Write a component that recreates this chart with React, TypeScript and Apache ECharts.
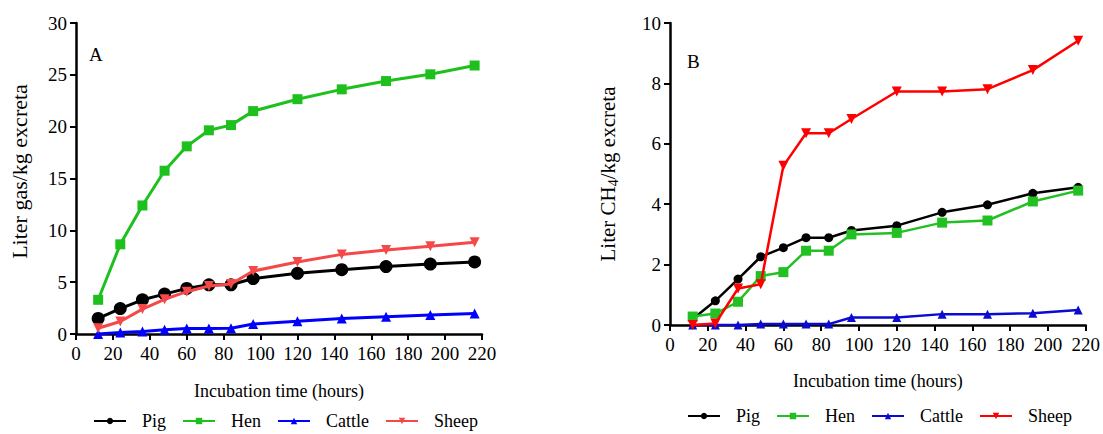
import React, { useEffect, useRef } from "react";
import * as echarts from "echarts";

const hours = [12, 24, 36, 48, 60, 72, 84, 96, 120, 144, 168, 192, 216];

// Panel A: Liter gas / kg excreta
const gasPig = [1.5, 2.45, 3.3, 3.85, 4.4, 4.75, 4.75, 5.35, 5.85, 6.2, 6.5, 6.75, 6.95];
const gasHen = [3.3, 8.65, 12.4, 15.75, 18.1, 19.65, 20.15, 21.5, 22.65, 23.6, 24.4, 25.05, 25.9];
const gasCattle = [0.0, 0.15, 0.25, 0.4, 0.52, 0.52, 0.55, 0.96, 1.22, 1.5, 1.67, 1.83, 1.98];
const gasSheep = [0.55, 1.2, 2.4, 3.35, 4.08, 4.63, 4.82, 6.07, 6.94, 7.68, 8.1, 8.46, 8.84];

// Panel B: Liter CH4 / kg excreta
const ch4Pig = [0.2, 0.8, 1.52, 2.26, 2.56, 2.89, 2.89, 3.13, 3.29, 3.73, 3.98, 4.36, 4.56];
const ch4Hen = [0.28, 0.38, 0.77, 1.62, 1.75, 2.46, 2.46, 3.0, 3.05, 3.39, 3.46, 4.09, 4.45];
const ch4Cattle = [0.0, 0.0, 0.0, 0.03, 0.03, 0.03, 0.03, 0.25, 0.25, 0.36, 0.36, 0.39, 0.5];
const ch4Sheep = [0.0, 0.05, 1.21, 1.35, 5.27, 6.35, 6.35, 6.82, 7.73, 7.73, 7.81, 8.44, 9.41];

const xTicksMax = 220;
const seriesNames = ["Pig", "Hen", "Cattle", "Sheep"];

const FONT = "Liberation Serif";

function pairs(vals: number[]) {
  return hours.map((h, i) => [h, vals[i]]);
}

function buildOption(cfg: {
  gridLeft: number;
  gridTop: number;
  gridWidth: number;
  gridHeight: number;
  yMax: number;
  yInterval: number;
  yName: string;
  yNameSize: number;
  yNamePad: number[];
  yNameRich?: any;
  yNameGap: number;
  xNameGap: number;
  panel: string;
  panelX: number;
  panelY: number;
  legendLeft: number;
  legendTop: number;
  itemGap: number;
  lineWidth: number;
  colors: string[];
  sizes: number[];
  data: number[][];
}) {
  const symbols = ["circle", "rect", "triangle", "triangle"];
  const rotates = [0, 0, 0, 180];
  const nameStyle: any = {
    fontFamily: FONT,
    fontSize: cfg.yNameSize,
    color: "#000",
    padding: cfg.yNamePad,
  };
  if (cfg.yNameRich) nameStyle.rich = cfg.yNameRich;
  return {
    animation: false,
    textStyle: { fontFamily: FONT, color: "#000" },
    title: {
      text: cfg.panel,
      left: cfg.panelX,
      top: cfg.panelY,
      padding: 0,
      textStyle: { fontFamily: FONT, fontSize: 19, fontWeight: "normal", color: "#000" },
    },
    legend: {
      left: cfg.legendLeft,
      top: cfg.legendTop,
      padding: 0,
      itemWidth: 32,
      itemHeight: 8,
      itemGap: cfg.itemGap,
      data: seriesNames,
      textStyle: {
        fontFamily: FONT,
        fontSize: 18,
        color: "#000",
        padding: [0, 0, 0, 11],
      },
    },
    grid: {
      left: cfg.gridLeft,
      top: cfg.gridTop,
      width: cfg.gridWidth,
      height: cfg.gridHeight,
      containLabel: false,
    },
    xAxis: {
      type: "value",
      min: 0,
      max: xTicksMax,
      interval: 20,
      name: "Incubation time (hours)",
      nameLocation: "middle",
      nameGap: cfg.xNameGap,
      nameTextStyle: { fontFamily: FONT, fontSize: 18, color: "#000" },
      axisLine: { show: true, onZero: false, lineStyle: { color: "#000", width: 2.5 } },
      axisTick: { show: true, length: 6, lineStyle: { color: "#000", width: 2 } },
      axisLabel: { fontFamily: FONT, fontSize: 19, color: "#000", margin: 10 },
      splitLine: { show: false },
    },
    yAxis: {
      type: "value",
      min: 0,
      max: cfg.yMax,
      interval: cfg.yInterval,
      name: cfg.yName,
      nameLocation: "middle",
      nameRotate: 90,
      nameGap: cfg.yNameGap,
      nameTextStyle: nameStyle,
      axisLine: { show: true, lineStyle: { color: "#000", width: 2.5 } },
      axisTick: { show: true, length: 6, lineStyle: { color: "#000", width: 2 } },
      axisLabel: { fontFamily: FONT, fontSize: 19, color: "#000", margin: 9 },
      splitLine: { show: false },
    },
    series: seriesNames.map((name, i) => ({
      name,
      type: "line",
      data: pairs(cfg.data[i]),
      symbol: symbols[i],
      symbolRotate: rotates[i],
      symbolSize: cfg.sizes[i],
      showAllSymbol: true,
      color: cfg.colors[i],
      lineStyle: { color: cfg.colors[i], width: cfg.lineWidth },
      itemStyle: { color: cfg.colors[i] },
      z: [2, 3, 4, 5][i],
    })),
  };
}

export default function App() {
  const leftRef = useRef<HTMLDivElement>(null);
  const rightRef = useRef<HTMLDivElement>(null);

  useEffect(() => {
    const left = echarts.init(leftRef.current!, undefined, { renderer: "svg" });
    const right = echarts.init(rightRef.current!, undefined, { renderer: "svg" });

    left.setOption(
      buildOption({
        gridLeft: 71,
        gridTop: 23,
        gridWidth: 411,
        gridHeight: 311,
        yMax: 30,
        yInterval: 5,
        yName: "Liter gas/kg excreta",
        yNameSize: 22,
        yNamePad: [0, 0, 0, 14],
        yNameGap: 46,
        xNameGap: 48,
        panel: "A",
        panelX: 89,
        panelY: 45,
        legendLeft: 93,
        legendTop: 412,
        itemGap: 16,
        lineWidth: 3,
        colors: ["#000000", "#1ec01e", "#0000ff", "#f54848"],
        sizes: [13, 10, 10, 10],
        data: [gasPig, gasHen, gasCattle, gasSheep],
      }) as any
    );

    right.setOption(
      buildOption({
        gridLeft: 110,
        gridTop: 23,
        gridWidth: 417,
        gridHeight: 302,
        yMax: 10,
        yInterval: 2,
        yName: "{a|Liter CH}{s|4}{a|/kg excreta}",
        yNameSize: 21,
        yNamePad: [0, 0, 0, 0],
        yNameRich: {
          a: { fontFamily: FONT, fontSize: 21, color: "#000" },
          s: { fontFamily: FONT, fontSize: 14, color: "#000", verticalAlign: "bottom", padding: [10, 0, 0, 0] },
        },
        yNameGap: 50,
        xNameGap: 47,
        panel: "B",
        panelX: 127,
        panelY: 52,
        legendLeft: 127,
        legendTop: 407,
        itemGap: 16,
        lineWidth: 2.5,
        colors: ["#000000", "#22c022", "#0a0ad0", "#ff0000"],
        sizes: [9, 10, 9, 10],
        data: [ch4Pig, ch4Hen, ch4Cattle, ch4Sheep],
      }) as any
    );

    return () => {
      left.dispose();
      right.dispose();
    };
  }, []);

  return (
    <div style={{ position: "absolute", left: 0, top: 0, width: 1103, height: 434, background: "#fff" }}>
      <div ref={leftRef} style={{ position: "absolute", left: 0, top: 0, width: 560, height: 434 }} />
      <div ref={rightRef} style={{ position: "absolute", left: 560, top: 0, width: 543, height: 434 }} />
    </div>
  );
}
